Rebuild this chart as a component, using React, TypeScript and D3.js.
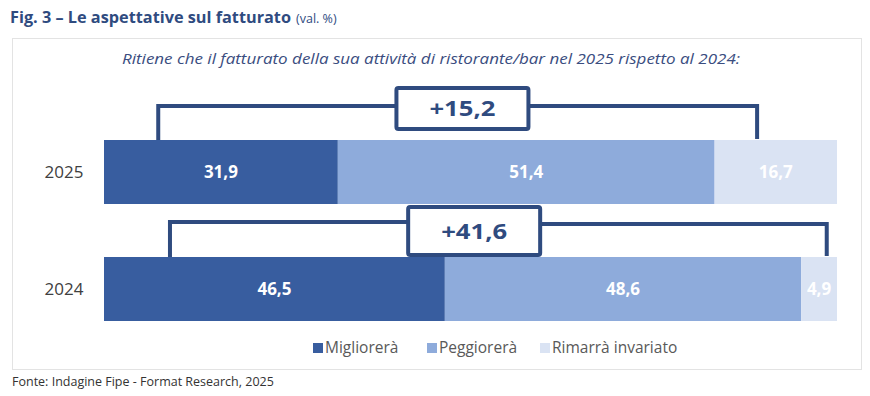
import React from "react";
import * as d3 from "d3";

const years = ["2025", "2024"];
const seriesNames = ["Migliorerà", "Peggiorerà", "Rimarrà invariato"];
const migliorera = [31.9, 46.5];
const peggiorera = [51.4, 48.6];
const invariato = [16.7, 4.9];
const saldo = ["+15,2", "+41,6"];

const colors = ["#385d9f", "#8eabdb", "#dae3f3"];
const FONT = "'Open Sans', 'Noto Sans', sans-serif";
const DARK = "#2f4b7f";

// bracket layout per year (data-unit positions for legs and box centre, pixel offsets)
const bracketLayout = [
  { left: 7.4, right: 89.1, center: 48.9, lineDy: -34, boxTop: -52, boxH: 41, rightDy: -34 },
  { left: 9.0, right: 98.6, center: 50.5, lineDy: -35, boxTop: -50, boxH: 48, rightDy: -33 },
];

export default function App() {
  const W = 870, H = 396;
  const x = d3.scaleLinear().domain([0, 100]).range([104, 837]);
  const y = d3.scaleBand().domain(years).range([140, 321]).paddingInner(0.453);
  const rows = years.map((yr, i) => {
    const vals = [migliorera[i], peggiorera[i], invariato[i]];
    let acc = 0;
    const segs = vals.map((v, k) => {
      const s = { x0: acc, x1: acc + v, v, k };
      acc += v;
      return s;
    });
    return { yr, segs, i };
  });
  const fmt = (v: number) => d3.format(".1f")(v).replace(".", ",");
  const legendX = [313, 427, 540];

  return (
    <svg width={W} height={H} style={{ position: "absolute", left: 0, top: 0, background: "#fff" }} fontFamily={FONT}>
      <text x={10} y={23} fill={DARK} fontSize={16} fontWeight={700} textLength={281} lengthAdjust="spacingAndGlyphs">
        Fig. 3 – Le aspettative sul fatturato
      </text>
      <text x={296} y={23} fill={DARK} fontSize={12.5}>(val. %)</text>
      <rect x={12.5} y={38.5} width={849} height={331} fill="none" stroke="#e3e3e3" strokeWidth={1} />
      <text x={431} y={64} textAnchor="middle" fill="#3a4d80" fontSize={14.5} fontStyle="italic" textLength={618} lengthAdjust="spacingAndGlyphs">
        Ritiene che il fatturato della sua attività di ristorante/bar nel 2025 rispetto al 2024:
      </text>
      {rows.map((r) => {
        const by = y(r.yr)!;
        const bh = y.bandwidth();
        return (
          <g key={r.yr}>
            <text x={64} y={by + bh / 2} dy="0.35em" textAnchor="middle" fill="#404040" fontSize={17}>
              {r.yr}
            </text>
            {r.segs.map((s) => (
              <rect key={s.k} x={x(s.x0)} y={by} width={x(s.x1) - x(s.x0)} height={bh} fill={colors[s.k]} />
            ))}
            {r.segs.map((s) => (
              <text key={"t" + s.k} x={(x(s.x0) + x(s.x1)) / 2} y={by + bh / 2} dy="0.36em" textAnchor="middle"
                fill="#fff" fontSize={17} fontWeight={700}>
                {fmt(s.v)}
              </text>
            ))}
          </g>
        );
      })}
      {rows.map((r) => {
        const b = bracketLayout[r.i];
        const by = y(r.yr)!;
        const lx = x(b.left), rx = x(b.right), cx = x(b.center);
        const ly = by + b.lineDy, ry = by + b.rightDy;
        const boxW = 132;
        const bt = by + b.boxTop;
        return (
          <g key={"b" + r.yr}>
            <path d={`M${lx},${by}V${ly}H${cx}`} fill="none" stroke={DARK} strokeWidth={4} />
            <path d={`M${cx},${ry}H${rx}V${by - 1}`} fill="none" stroke={DARK} strokeWidth={4} />
            <rect x={cx - boxW / 2} y={bt} width={boxW} height={b.boxH} fill="#fff" stroke={DARK} strokeWidth={4} rx={2} />
            <text x={cx} y={bt + b.boxH / 2} dy="0.36em" textAnchor="middle" fill={DARK} fontSize={22} fontWeight={700}
              textLength={66} lengthAdjust="spacingAndGlyphs">
              {saldo[r.i]}
            </text>
          </g>
        );
      })}
      {seriesNames.map((n, k) => (
        <g key={n}>
          <rect x={legendX[k]} y={343} width={10} height={10} fill={colors[k]} />
          <text x={legendX[k] + 12} y={348} dy="0.35em" fill="#595959" fontSize={15.5}>
            {n}
          </text>
        </g>
      ))}
      <text x={12} y={386} fill="#333" fontSize={12.5}>
        Fonte: Indagine Fipe - Format Research, 2025
      </text>
    </svg>
  );
}
